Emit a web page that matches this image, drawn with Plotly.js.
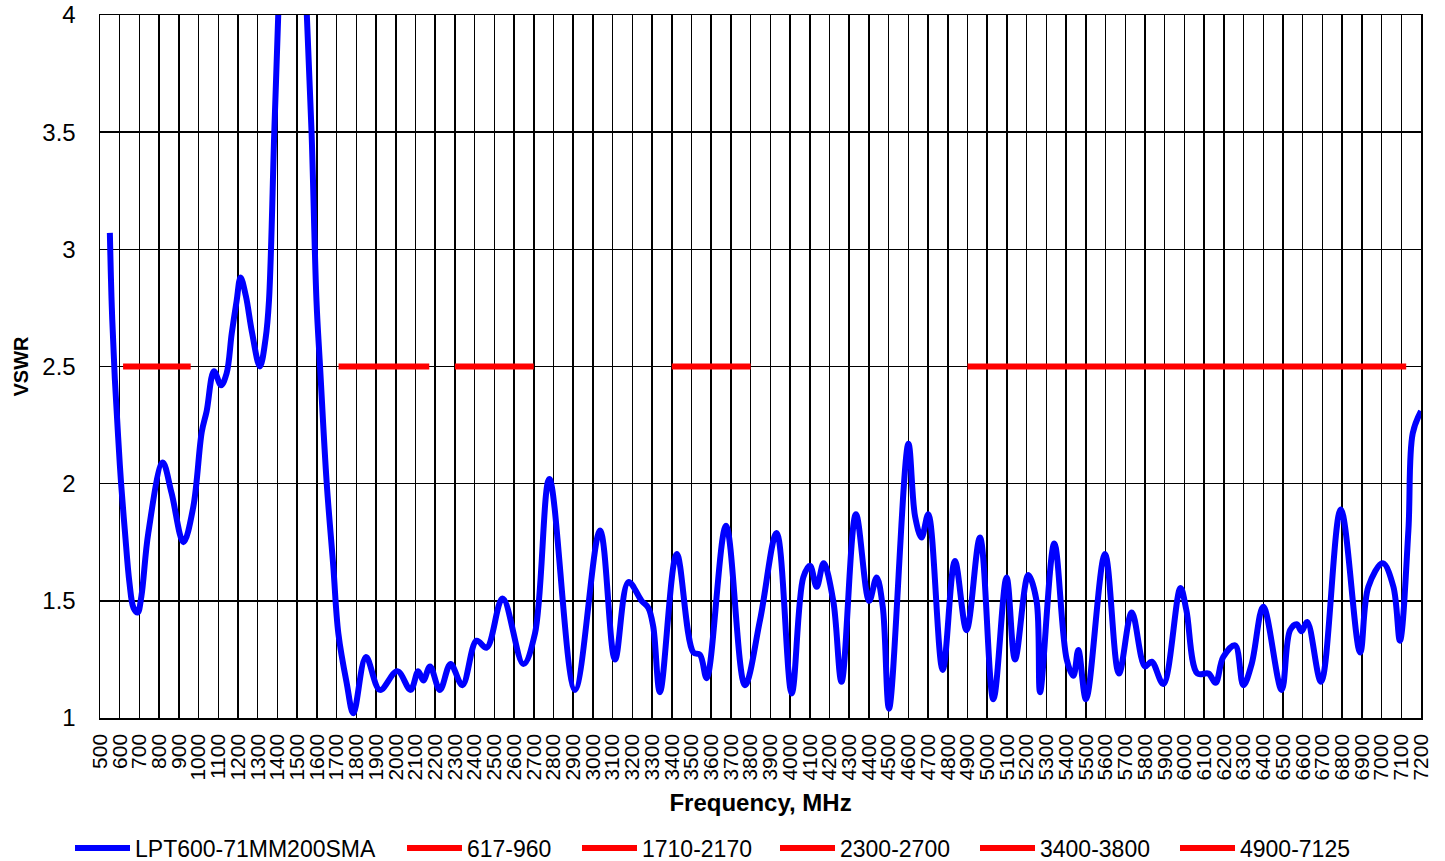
<!DOCTYPE html>
<html>
<head>
<meta charset="utf-8">
<script src="https://cdn.plot.ly/plotly-3.0.1.min.js"></script>
<style>html,body{margin:0;padding:0;background:#fff;}#chart{width:1445px;height:861px;}</style>
</head>
<body>
<div id="chart"></div>
<script>
// Measured VSWR curve (frequency in MHz, VSWR)
const freqMHz = [550,560,575,592,607,627,649,670,691,710,745,818,863,923,973,1016,1041,1078,1114,1142,1168,1193,1213,1240,1270,1311,1340,1357,1384,1404,1440,1475,1515,1549,1573,1598,1616,1650,1683,1709,1751,1785,1849,1920,2008,2075,2114,2140,2174,2224,2278,2338,2410,2461,2542,2647,2706,2779,2909,3036,3112,3180,3247,3281,3306,3340,3425,3509,3543,3577,3675,3771,3848,3932,4008,4067,4101,4135,4170,4219,4261,4334,4401,4439,4470,4502,4600,4634,4667,4701,4774,4836,4895,4963,5031,5098,5141,5208,5250,5268,5340,5403,5437,5462,5501,5597,5668,5733,5800,5834,5893,5980,6010,6066,6122,6158,6197,6257,6299,6341,6400,6493,6536,6570,6594,6623,6693,6793,6891,6933,7006,7060,7093,7136,7158,7200];
const vswr    = [3.07,2.75,2.45,2.2,2.0,1.79,1.58,1.47,1.45,1.52,1.79,2.09,1.96,1.75,1.90,2.22,2.31,2.48,2.42,2.47,2.64,2.78,2.88,2.80,2.65,2.50,2.62,2.78,3.5,4.0,5.0,5.4,5.0,4.0,3.5,2.78,2.5,2.0,1.65,1.36,1.15,1.02,1.26,1.12,1.20,1.12,1.20,1.16,1.22,1.12,1.23,1.14,1.33,1.30,1.51,1.23,1.36,2.02,1.12,1.80,1.25,1.58,1.50,1.47,1.39,1.11,1.70,1.28,1.27,1.17,1.82,1.14,1.42,1.79,1.105,1.60,1.65,1.56,1.66,1.50,1.155,1.87,1.50,1.60,1.475,1.04,2.17,1.86,1.77,1.87,1.205,1.67,1.375,1.77,1.08,1.60,1.25,1.61,1.50,1.11,1.745,1.25,1.18,1.29,1.08,1.70,1.19,1.45,1.22,1.24,1.145,1.555,1.46,1.19,1.19,1.15,1.26,1.31,1.14,1.23,1.475,1.12,1.375,1.40,1.37,1.41,1.155,1.89,1.28,1.56,1.66,1.56,1.33,1.80,2.215,2.31];

// Frequency bands (start, stop) and their VSWR limit
const bandNames = ["617-960","1710-2170","2300-2700","3400-3800","4900-7125"];
const bandStart = [617,1710,2300,3400,4900];
const bandStop  = [960,2170,2700,3800,7125];
const bandLimit = [2.5,2.5,2.5,2.5,2.5];

const seriesName = "LPT600-71MM200SMA";

const font = 'Liberation Sans, Arial, sans-serif';
// legend entry text start positions (px) — one legend box per entry
const legendTextX = [135, 467, 642, 840, 1040, 1240];
const legendIds = ['legend','legend2','legend3','legend4','legend5','legend6'];

const traces = [{
  x: freqMHz, y: vswr, type: 'scatter', mode: 'lines', name: seriesName, legend: legendIds[0],
  line: {color: '#0000ff', width: 6, shape: 'spline', smoothing: 1}
}];
bandNames.forEach((n, i) => {
  traces.push({
    x: [bandStart[i], bandStop[i]], y: [bandLimit[i], bandLimit[i]],
    type: 'scatter', mode: 'lines', name: n, legend: legendIds[i + 1],
    line: {color: '#ff0000', width: 6}
  });
});

const layout = {
  width: 1445, height: 861,
  margin: {l: 100, r: 24, t: 15, b: 143},
  paper_bgcolor: '#fff', plot_bgcolor: '#fff',
  font: {family: font, color: '#000', size: 20},
  showlegend: true,
  xaxis: {
    range: [500, 7200], tickmode: 'linear', tick0: 500, dtick: 100,
    tickangle: -90, tickfont: {family: font, size: 21},
    showgrid: true, gridcolor: '#000', gridwidth: 1.5,
    showline: true, linecolor: '#000', linewidth: 1.5, mirror: true,
    zeroline: false, ticks: '', ticklabelstandoff: 6,
    title: {text: '<b>Frequency, MHz</b>', font: {family: font, size: 24}, standoff: 14}
  },
  yaxis: {
    range: [1, 4], tickmode: 'linear', tick0: 1, dtick: 0.5,
    tickfont: {family: font, size: 24},
    showgrid: true, gridcolor: '#000', gridwidth: 1.5,
    showline: true, linecolor: '#000', linewidth: 1.5, mirror: true,
    zeroline: false, ticks: '', ticklabelstandoff: 18,
    title: {text: '<b>VSWR</b>', font: {family: font, size: 20}, standoff: 8}
  }
};
legendIds.forEach((id, i) => {
  layout[id] = {orientation: 'h', xref: 'container', x: (legendTextX[i] - 65) / 1445, xanchor: 'left',
    yref: 'container', y: 0.015, yanchor: 'middle', bgcolor: 'rgba(0,0,0,0)',
    font: {family: font, size: 23, color: '#000'}, itemwidth: 55};
});
Plotly.newPlot('chart', traces, layout, {displayModeBar: false, staticPlot: true});
</script>
</body>
</html>
